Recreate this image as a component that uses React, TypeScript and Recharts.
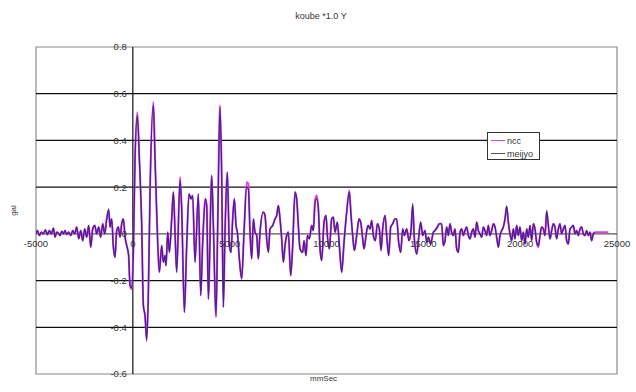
import { LineChart, Line, XAxis, YAxis, ReferenceLine, ReferenceArea, ReferenceDot } from "recharts";

// time axis in mSec, values in gal
const times = [
  -5000, -4929, -4825, -4722, -4619, -4515, -4412, -4309, -4206, -4102,
  -4016, -3930, -3844, -3758, -3672, -3586, -3500, -3414, -3311, -3207,
  -3104, -3001, -2898, -2794, -2691, -2588, -2485, -2381, -2278, -2175,
  -2072, -1968, -1865, -1762, -1659, -1555, -1452, -1349, -1246, -1177,
  -1091, -1005, -919, -832, -747, -660, -575, -488, -402, -316,
  -220, -145, -59, 27, 113, 234, 337, 458, 544, 630,
  716, 802, 888, 1060, 1146, 1232, 1370, 1490, 1576, 1662,
  1714, 1800, 1886, 2007, 2093, 2179, 2265, 2437, 2523, 2661,
  2781, 2901, 3005, 3091, 3211, 3383, 3504, 3607, 3745, 3814,
  3900, 4072, 4158, 4296, 4382, 4502, 4588, 4674, 4760, 4881,
  4984, 5070, 5156, 5242, 5328, 5397, 5500, 5621, 5741, 5879,
  5965, 6051, 6137, 6223, 6309, 6395, 6481, 6567, 6739, 6825,
  6911, 6997, 7084, 7221, 7342, 7428, 7514, 7600, 7686, 7772,
  7858, 7944, 8030, 8151, 8254, 8374, 8460, 8546, 8633, 8771,
  8840, 8943, 9012, 9115, 9235, 9321, 9407, 9494, 9580, 9666,
  9752, 9872, 9975, 10044, 10147, 10268, 10354, 10440, 10561, 10664,
  10784, 10905, 11042, 11180, 11266, 11352, 11438, 11559, 11679, 11765,
  11851, 11937, 12041, 12144, 12247, 12333, 12419, 12522, 12626, 12729,
  12815, 12901, 13022, 13108, 13211, 13314, 13417, 13538, 13624, 13727,
  13830, 13934, 14020, 14140, 14261, 14364, 14450, 14536, 14657, 14743,
  14863, 14966, 15087, 15173, 15259, 15379, 15517, 15603, 15724, 15827,
  15947, 16033, 16119, 16205, 16291, 16377, 16463, 16549, 16635, 16722,
  16808, 16894, 16980, 17066, 17152, 17238, 17324, 17410, 17496, 17582,
  17668, 17754, 17840, 17926, 18012, 18098, 18184, 18270, 18356, 18442,
  18529, 18615, 18701, 18787, 18873, 18959, 19045, 19131, 19217, 19303,
  19389, 19475, 19561, 19647, 19733, 19819, 19905, 19991, 20077, 20164,
  20250, 20336, 20422, 20508, 20594, 20680, 20766, 20852, 20938, 21024,
  21110, 21196, 21282, 21368, 21454, 21540, 21626, 21712, 21798, 21884,
  21970, 22056, 22142, 22229, 22315, 22401, 22487, 22573, 22659, 22745,
  22831, 22917, 23003, 23089, 23175, 23261, 23347, 23433, 23519, 23605,
  23691, 23777, 23864, 24100, 24555,
];

const ncc = [
  0, 0.014, -0.007, 0.007, 0, 0.017, -0.003, 0.014, 0, 0.024,
  -0.014, 0.007, 0.003, -0.007, 0.011, 0, 0.014, -0.003, 0.007, -0.007,
  0.014, 0, 0.029, -0.021, 0.014, -0.029, 0.021, -0.014, 0.036, -0.057,
  0.021, 0.036, 0, 0.029, -0.014, 0.043, 0, 0.064, 0.1, 0.029,
  0.064, -0.057, -0.1, 0.014, 0.029, -0.014, 0.043, 0.064, -0.014, -0.05,
  -0.09, -0.221, -0.236, -0.079, 0.321, 0.521, 0.321, 0.036, -0.307, -0.35,
  -0.45, -0.25, 0.179, 0.564, 0.321, 0.093, -0.164, -0.05, -0.121, -0.093,
  -0.136, 0.007, -0.079, 0.064, 0.179, 0.007, -0.164, 0.243, 0.107, -0.336,
  -0.05, 0.171, 0.15, 0.164, -0.121, 0.171, -0.264, -0.036, 0.15, 0.121,
  -0.279, 0.25, 0.036, -0.357, 0.036, 0.55, 0.25, -0.314, 0.007, 0.264,
  -0.05, -0.079, 0.064, 0.15, 0.036, 0.007, -0.107, -0.193, 0.007, 0.221,
  0.214, 0.007, -0.107, 0.064, 0.007, -0.007, -0.107, 0.007, 0.093, 0.079,
  -0.021, -0.079, 0.021, 0.036, 0.064, 0.079, 0.121, 0.064, -0.021, -0.121,
  -0.05, -0.007, 0.007, -0.179, -0.05, 0.179, 0.15, 0.036, -0.064, -0.079,
  -0.029, -0.093, -0.007, -0.021, 0.036, 0.014, 0.143, 0.164, 0.107, -0.064,
  -0.114, 0.05, 0.079, -0.007, -0.064, 0.064, 0.071, 0.007, 0.05, -0.05,
  -0.164, -0.036, 0.093, 0.186, 0.079, -0.007, -0.071, -0.007, 0.064, 0.05,
  -0.007, -0.064, -0.007, 0.036, 0.021, 0.057, -0.007, -0.029, 0.043, 0.021,
  -0.071, 0.021, 0.079, -0.007, -0.093, 0.029, 0.043, 0.064, 0.064, -0.036,
  -0.079, 0.021, -0.007, 0.021, -0.029, 0.014, 0.12, -0.021, -0.086, -0.029,
  0.05, -0.007, 0.014, -0.036, -0.014, -0.043, 0.007, 0.014, 0.029, 0.043,
  0.043, -0.05, -0.029, 0.029, -0.007, 0.043, 0.007, -0.007, 0.021, -0.064,
  -0.079, 0.007, 0.021, -0.007, 0.014, 0.029, -0.007, -0.021, 0.007, 0.021,
  -0.014, 0.05, 0.014, 0, -0.014, 0.029, 0.014, -0.007, 0.036, -0.007,
  0.014, 0.043, 0.029, -0.014, -0.057, -0.007, 0.014, 0.029, 0.064, 0.114,
  0.05, 0, -0.029, 0.021, -0.021, 0.036, -0.007, 0.029, -0.029, 0.007,
  -0.043, 0.021, -0.014, 0.036, -0.029, 0.043, 0.021, -0.036, -0.057, -0.007,
  0.029, 0.021, -0.007, 0.093, 0.036, -0.021, 0.014, 0.043, 0.029, -0.021,
  0.021, 0.043, 0, 0.021, 0.036, -0.029, -0.043, 0.021, 0.029, 0.036,
  0, 0.014, -0.007, 0.021, 0.029, 0, -0.007, 0.014, -0.007, 0.007,
  -0.029, 0, 0.007, 0.007, 0.007,
];

const meijyo = [
  0, 0.014, -0.007, 0.007, 0, 0.017, -0.003, 0.014, 0, 0.024,
  -0.014, 0.007, 0.003, -0.007, 0.011, 0, 0.014, -0.003, 0.007, -0.007,
  0.014, 0, 0.029, -0.021, 0.014, -0.029, 0.021, -0.014, 0.036, -0.057,
  0.021, 0.036, 0, 0.029, -0.014, 0.043, 0, 0.064, 0.107, 0.029,
  0.064, -0.057, -0.1, 0.014, 0.029, -0.014, 0.043, 0.064, -0.014, -0.05,
  -0.09, -0.221, -0.23, -0.079, 0.321, 0.505, 0.321, 0.036, -0.307, -0.35,
  -0.46, -0.25, 0.179, 0.55, 0.321, 0.093, -0.164, -0.05, -0.121, -0.093,
  -0.136, 0.007, -0.079, 0.064, 0.179, 0.007, -0.164, 0.23, 0.107, -0.336,
  -0.05, 0.171, 0.15, 0.164, -0.121, 0.171, -0.264, -0.036, 0.15, 0.121,
  -0.279, 0.25, 0.036, -0.35, 0.036, 0.54, 0.25, -0.314, 0.007, 0.264,
  -0.05, -0.079, 0.064, 0.15, 0.036, 0.007, -0.107, -0.193, 0.007, 0.2,
  0.19, 0.007, -0.107, 0.064, 0.007, -0.007, -0.107, 0.007, 0.093, 0.079,
  -0.021, -0.079, 0.021, 0.036, 0.064, 0.079, 0.121, 0.064, -0.021, -0.121,
  -0.05, -0.007, 0.007, -0.179, -0.05, 0.179, 0.15, 0.036, -0.064, -0.079,
  -0.029, -0.093, -0.007, -0.021, 0.036, 0.014, 0.13, 0.15, 0.107, -0.064,
  -0.114, 0.05, 0.079, -0.007, -0.064, 0.064, 0.071, 0.007, 0.05, -0.05,
  -0.164, -0.036, 0.093, 0.18, 0.079, -0.007, -0.071, -0.007, 0.064, 0.05,
  -0.007, -0.064, -0.007, 0.036, 0.021, 0.057, -0.007, -0.029, 0.043, 0.021,
  -0.071, 0.021, 0.079, -0.007, -0.093, 0.029, 0.043, 0.064, 0.064, -0.036,
  -0.079, 0.021, -0.007, 0.021, -0.029, 0.014, 0.13, -0.021, -0.086, -0.029,
  0.05, -0.007, 0.014, -0.036, -0.014, -0.043, 0.007, 0.014, 0.029, 0.043,
  0.043, -0.05, -0.029, 0.029, -0.007, 0.043, 0.007, -0.007, 0.021, -0.064,
  -0.079, 0.007, 0.021, -0.007, 0.014, 0.029, -0.007, -0.021, 0.007, 0.021,
  -0.014, 0.05, 0.014, 0, -0.014, 0.029, 0.014, -0.007, 0.036, -0.007,
  0.014, 0.043, 0.029, -0.014, -0.057, -0.007, 0.014, 0.029, 0.064, 0.12,
  0.05, 0, -0.029, 0.021, -0.021, 0.036, -0.007, 0.029, -0.029, 0.007,
  -0.043, 0.021, -0.014, 0.036, -0.029, 0.043, 0.021, -0.036, -0.05, -0.007,
  0.029, 0.021, -0.007, 0.1, 0.036, -0.021, 0.014, 0.043, 0.029, -0.021,
  0.021, 0.043, 0, 0.021, 0.036, -0.029, -0.043, 0.021, 0.029, 0.036,
  0, 0.014, -0.007, 0.021, 0.029, 0, -0.007, 0.014, -0.007, 0.007,
  -0.029, 0, 0.007, null, null,
];

const xTicks = [-5000, 0, 5000, 10000, 15000, 20000, 25000];
const yTicks = [-0.6, -0.4, -0.2, 0, 0.2, 0.4, 0.6, 0.8];
const gridLines = [-0.4, -0.2, 0.2, 0.4, 0.6];

const NCC_COLOR = "#e040e0";
const MEIJYO_COLOR = "#2c1c84";
const FONT = "'Liberation Sans', Arial, sans-serif";

const data = times.map((t, i) => ({ t, ncc: ncc[i], meijyo: meijyo[i] }));

const labelStyle = { fill: "#333", fontSize: 9.5, fontFamily: FONT };

export default function App() {
  return (
    <div
      style={{
        position: "absolute",
        left: 0,
        top: 0,
        width: 636,
        height: 392,
        background: "#fff",
        fontFamily: FONT,
        overflow: "hidden",
      }}
    >
      <div style={{ position: "absolute", top: 11, left: 3, width: 636, textAlign: "center", fontSize: 9, color: "#333" }}>
        koube *1.0 Y
      </div>
      <div
        style={{
          position: "absolute",
          left: 1,
          top: 206,
          width: 24,
          textAlign: "center",
          fontSize: 8,
          color: "#333",
          transform: "rotate(-90deg)",
        }}
      >
        gal
      </div>
      <div style={{ position: "absolute", left: 310, top: 374, fontSize: 8, color: "#333" }}>mmSec</div>

      <LineChart width={636} height={392} data={data} margin={{ top: 47, right: 19, bottom: 18, left: 36 }}>
        <XAxis type="number" dataKey="t" domain={[-5000, 25000]} allowDataOverflow hide />
        <YAxis type="number" domain={[-0.6, 0.8]} ticks={yTicks} allowDataOverflow hide />
        <ReferenceArea x1={-5000} x2={25000} y1={-0.6} y2={0.8} fill="none" fillOpacity={0} stroke="#8a8a8a" strokeWidth={1.2} />
        {gridLines.map((v) => (
          <ReferenceLine key={"g" + v} y={v} stroke="#111" strokeWidth={1.2} />
        ))}
        <ReferenceLine y={0} stroke="#555" strokeWidth={1.2} />
        <ReferenceLine x={0} stroke="#111" strokeWidth={1.2} />
        {yTicks.map((v) => (
          <ReferenceDot
            key={"y" + v}
            x={0}
            y={v}
            r={1}
            fill="none"
            stroke="none"
            label={{ value: String(v), position: "left", offset: 5, ...labelStyle }}
          />
        ))}
        {xTicks.map((v) => (
          <ReferenceDot
            key={"x" + v}
            x={v}
            y={0}
            r={1}
            fill="none"
            stroke="none"
            label={{ value: String(v), position: "bottom", offset: 5, ...labelStyle }}
          />
        ))}
        <Line
          type="monotone"
          dataKey="ncc"
          stroke={NCC_COLOR}
          strokeWidth={2}
          dot={false}
          isAnimationActive={false}
        />
        <Line
          type="monotone"
          dataKey="meijyo"
          stroke={MEIJYO_COLOR}
          strokeWidth={1.3}
          strokeOpacity={0.85}
          dot={false}
          isAnimationActive={false}
        />
      </LineChart>

      <div
        style={{
          position: "absolute",
          left: 487,
          top: 132,
          width: 51,
          height: 26,
          border: "1px solid #333",
          background: "#fff",
          fontSize: 9,
          color: "#333",
        }}
      >
        {[
          { name: "ncc", color: NCC_COLOR },
          { name: "meijyo", color: "#555" },
        ].map((e) => (
          <div key={e.name} style={{ display: "flex", alignItems: "center", height: 11, marginTop: 2 }}>
            <span style={{ display: "inline-block", width: 14, height: 1.5, background: e.color, marginLeft: 3, marginRight: 2 }} />
            <span>{e.name}</span>
          </div>
        ))}
      </div>
    </div>
  );
}
